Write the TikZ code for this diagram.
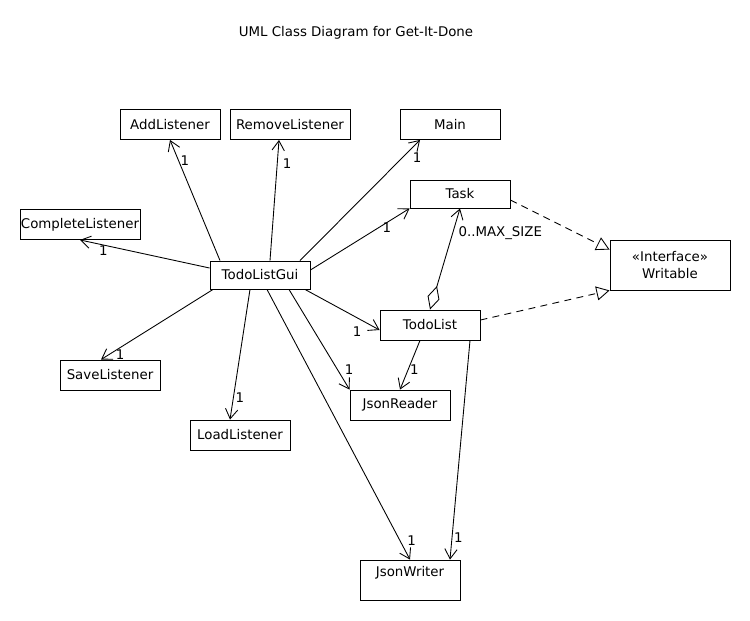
\documentclass[tikz,border=0pt]{standalone}
\usepackage{fontspec}
\setmainfont{DejaVu Sans}
\usetikzlibrary{arrows.meta}

\begin{document}
\begin{tikzpicture}[
                    x=0.02cm, y=-0.02cm,
                    font=\fontsize{7.6}{9.2}\selectfont,
                    line width=0.5pt,
                    >={Straight Barb[length=5.5pt,width=7pt]},
                    cls/.style={rectangle, draw, inner sep=0pt, minimum width=2cm, minimum height=0.6cm},
                    mult/.style={inner sep=1pt},
                    realize/.style={dash pattern=on 4pt off 3pt, -{Triangle[open,length=7.5pt,width=8pt]}}
                ]
                \useasboundingbox (0,0) rectangle (750,620);
                \node (title) at (356,33) {UML Class Diagram for Get-It-Done};

                % Classes
                \node [cls] (add) at (170,124.5) {AddListener};
                \node [cls, minimum width=2.4cm] (remove) at (290,124.5) {RemoveListener};
                \node [cls] (main) at (450,124.5) {Main};
                \node [cls, minimum width=2.4cm] (complete) at (80,224.5) {CompleteListener};
                \node [cls, minimum height=0.56cm] (gui) at (260,275) {TodoListGui};
                \node [cls, minimum height=0.56cm] (task) at (460,194) {Task};
                \node [cls, minimum width=2.4cm, minimum height=1cm, align=center] (writable) at (670,265) {«Interface»\\Writable};
                \node [cls] (todo) at (430,325) {TodoList};
                \node [cls] (reader) at (400,405) {JsonReader};
                \node [cls] (load) at (240,435) {LoadListener};
                \node [cls] (save) at (110,375) {SaveListener};
                \node [cls, minimum height=0.8cm, text depth=0.35cm] (writer) at (410,580) {JsonWriter};

                % Associations
                \draw [->] ([xshift=-0.8cm]gui.north) -- node[mult, pos=0.83, right]{1} (add.south);
                \draw [->] ([xshift=0.2cm]gui.north) -- node[mult, pos=0.8, right=2pt]{1} ([xshift=-0.22cm]remove.south);
                \draw [->] ([xshift=0.8cm]gui.north) -- node[mult, pos=0.85, right=5pt]{1} ([xshift=-0.6cm]main.south);
                \draw [->] ([yshift=0.1cm]gui.east) -- node[mult, pos=0.77, below, inner sep=0pt]{1} (task.south west);
                \draw [->] ([yshift=0.14cm]gui.west) -- node[mult, pos=0.82, below, inner sep=0pt]{1} (complete.south);
                \draw [->] ([xshift=-0.94cm]gui.south) -- node[mult, pos=0.83, below]{1} ([xshift=-0.18cm]save.north);
                \draw [->] ([xshift=-0.2cm]gui.south) -- node[mult, pos=0.83, right]{1} ([xshift=-0.2cm]load.north);
                \draw [->] ([xshift=0.9cm]gui.south) -- node[mult, pos=0.7, below=4pt]{1} ([yshift=-0.1cm]todo.west);
                \draw [->] ([xshift=0.58cm]gui.south) -- node[mult, pos=0.8, right=3pt]{1} (reader.north west);
                \draw [->] ([xshift=0.14cm]gui.south) -- node[mult, pos=0.93, right=3pt]{1} (writer.north);
                \draw [->] ([xshift=-0.2cm]todo.south) -- node[mult, pos=0.6, right]{1} (reader.north);
                \draw [->] ([xshift=0.8cm]todo.south) -- node[mult, pos=0.9, right]{1} ([xshift=0.8cm]writer.north);
                \draw [{Diamond[open,length=14pt,width=7pt]}->] (todo.north) -- node[mult, pos=0.76, right=2pt]{0..MAX\_SIZE} (task.south);

                % Realizations
                \draw [realize] ([yshift=-0.12cm]task.east) -- ([yshift=-0.2cm]writable.north west);
                \draw [realize] ([yshift=0.1cm]todo.east) -- (writable.south west);
            \end{tikzpicture}
\end{document}
